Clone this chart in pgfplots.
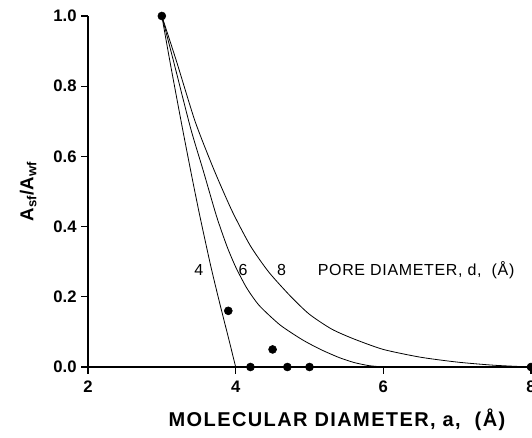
\documentclass[border=0pt]{standalone}
\usepackage{fontspec}
\setmainfont{Liberation Sans}
\usepackage{pgfplots}
\pgfplotsset{compat=1.18}
\begin{document}
\begin{tikzpicture}
\begin{axis}[
  scale only axis, width=332.25pt, height=263.25pt,
  xmin=2, xmax=8, ymin=0, ymax=1,
  axis lines*=left,
  axis line style={line width=1.1pt},
  xtick={2,4,6,8}, ytick={0,0.2,0.4,0.6,0.8,1.0},
  tick align=outside, major tick length=5pt,
  tick style={line width=0.8pt, black},
  /pgf/number format/assume math mode=true,
  yticklabel style={/pgf/number format/.cd, fixed, fixed zerofill, precision=1},
  ticklabel style={font=\bfseries\fontsize{12.5}{14}\selectfont},
  xticklabel style={yshift=-2pt},
  xlabel={\addfontfeatures{LetterSpace=7}MOLECULAR DIAMETER, a,\ \ (Å)},
  xlabel style={at={(axis description cs:0.562,-0.151)}, anchor=center, font=\bfseries\fontsize{15}{17}\selectfont},
  ylabel={A\textsubscript{sf}/A\textsubscript{wf}},
  ylabel style={at={(axis description cs:-0.135,0.5)}, anchor=center, font=\bfseries\fontsize{14}{16}\selectfont},
  clip=false,
]
\coordinate (sw) at (rel axis cs:0,0);
\coordinate (ne) at (rel axis cs:1,1);
% d = 4
\addplot[black, line width=0.6pt, smooth, tension=0.4] coordinates {
(3,1) (3.11,0.87) (3.27,0.69) (3.39,0.56) (3.51,0.435) (3.66,0.29) (3.78,0.185) (3.9,0.085) (4.0,0)};
% d = 6
\addplot[black, line width=0.6pt, smooth, tension=0.4] coordinates {
(3,1) (3.16,0.87) (3.39,0.68) (3.56,0.56) (3.74,0.43) (3.88,0.345) (4.0,0.285) (4.15,0.225) (4.32,0.175) (4.6,0.12) (4.9,0.078) (5.15,0.05) (5.4,0.027) (5.6,0.013) (5.8,0.004) (6,0)};
% d = 8
\addplot[black, line width=0.6pt, smooth, tension=0.4] coordinates {
(3,1) (3.2,0.87) (3.45,0.70) (3.7,0.565) (3.95,0.445) (4.2,0.345) (4.45,0.27) (4.75,0.2) (5.0,0.15) (5.3,0.108) (5.6,0.08) (6.0,0.05) (6.5,0.028) (7.0,0.014) (7.5,0.005) (8,0)};
% data points
\addplot[only marks, mark=*, mark size=3pt, black] coordinates {
(3,1) (3.9,0.16) (4.2,0) (4.5,0.05) (4.7,0) (5.0,0) (8,0)};
\node[font=\fontsize{12}{14}\selectfont] at (axis cs:3.5,0.277) {4};
\node[font=\fontsize{12}{14}\selectfont] at (axis cs:4.1,0.277) {6};
\node[font=\fontsize{12}{14}\selectfont] at (axis cs:4.62,0.277) {8};
\node[font=\fontsize{12}{14}\selectfont, anchor=west, inner sep=0pt] at (axis cs:5.11,0.277) {\addfontfeatures{LetterSpace=4}PORE DIAMETER, d,\ \ (Å)};
\end{axis}
\pgfresetboundingbox
\path ([xshift=-66pt,yshift=-52.5pt]sw) rectangle ([xshift=0.75pt,yshift=12pt]ne);
\end{tikzpicture}
\end{document}
